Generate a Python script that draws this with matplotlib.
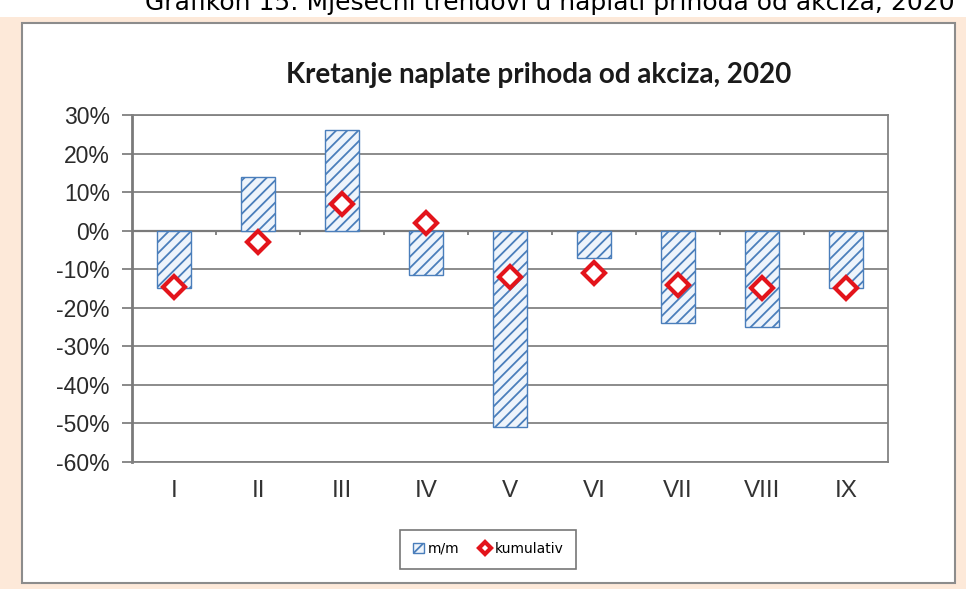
import matplotlib.pyplot as plt
import matplotlib.patches as mpatches
import numpy as np

plt.rcParams['axes.unicode_minus'] = False
plt.rcParams['hatch.linewidth'] = 1.3
plt.rcParams['hatch.color'] = '#4a7ebb'

# Data
months = ['I', 'II', 'III', 'IV', 'V', 'VI', 'VII', 'VIII', 'IX']
mm = [-15, 14, 26, -11.5, -51, -7, -24, -25, -15]          # m/m (%)
kumulativ = [-14.5, -3, 7, 2, -12, -11, -14, -15, -15]     # kumulativ (%)
yticks = [-60, -50, -40, -30, -20, -10, 0, 10, 20, 30]

W, H = 966, 589
fig = plt.figure(figsize=(W / 100, H / 100), dpi=100, facecolor='#fde9d9')

# white strip with the cut caption at the top
fig.patches.append(mpatches.Rectangle((0, 1 - 17 / H), 1, 17 / H, transform=fig.transFigure,
                                      facecolor='white', edgecolor='none', zorder=-2))
fig.text(145 / W, 1 - 10 / H, 'Grafikon 15: Mjesečni trendovi u naplati prihoda od akciza, 2020',
         ha='left', va='baseline', fontsize=18, family='DejaVu Sans', color='black')

# white chart frame
fig.patches.append(mpatches.Rectangle((22 / W, 1 - 583 / H), (955 - 22) / W, (583 - 23) / H,
                                      transform=fig.transFigure, facecolor='white',
                                      edgecolor='#8c8c8c', linewidth=1.5, zorder=-1))

fig.text(539 / W, 1 - 75 / H, 'Kretanje naplate prihoda od akciza, 2020', ha='center', va='center',
         fontsize=20, fontweight='bold', family='Lato', color='#1a1a1a')

ax = fig.add_axes([132 / W, 1 - 462 / H, 756 / W, 347 / H])
ax.set_zorder(2)
ax.set_facecolor('white')
x = np.arange(len(months))

bars = ax.bar(x, mm, width=0.4, facecolor='#eef4fb', edgecolor='#4a7ebb', hatch='///',
              linewidth=1.0, zorder=3, label='m/m')
pts, = ax.plot(x, kumulativ, linestyle='none', marker='D', markersize=11, markerfacecolor='white',
               markeredgecolor='#e3141b', markeredgewidth=3, zorder=4, label='kumulativ')

ax.set_xlim(-0.5, len(months) - 0.5)
ax.set_ylim(-60, 30)
ax.set_yticks(yticks)
ax.set_yticklabels(['%d%%' % v for v in yticks], fontsize=16.5, family='Liberation Sans', color='#2a2a2a')
ax.set_xticks(x)
ax.set_xticklabels(months, fontsize=17.5, family='Liberation Sans', color='#333333')
ax.tick_params(axis='x', length=0, pad=13)
ax.tick_params(axis='y', length=7, width=1.3, color='#808080', pad=9)

ax.grid(axis='y', color='#828282', linewidth=1.3, zorder=1)
for s in ax.spines.values():
    s.set_color('#828282')
    s.set_linewidth(1.3)
ax.spines['left'].set_color('#7a7a7a')
ax.spines['left'].set_linewidth(2)

# category axis at zero with small tick marks between categories
ax.axhline(0, color='#7a7a7a', linewidth=1.6, zorder=2)
ax.vlines(x[:-1] + 0.5, -1.0, 0, color='#7a7a7a', linewidth=1.3, zorder=2)

leg = fig.legend(handles=[bars, pts], labels=['m/m', 'kumulativ'], loc='center',
                 bbox_to_anchor=(488 / W, 1 - 549 / H), ncol=2, fontsize=10, frameon=True,
                 fancybox=False, edgecolor='#555555', handlelength=0.8, handleheight=0.8,
                 handletextpad=0.3, columnspacing=1.4, borderpad=0.9, markerscale=0.6)
leg.get_frame().set_linewidth(1.2)

fig.savefig('out.png', dpi=100, facecolor=fig.get_facecolor())
